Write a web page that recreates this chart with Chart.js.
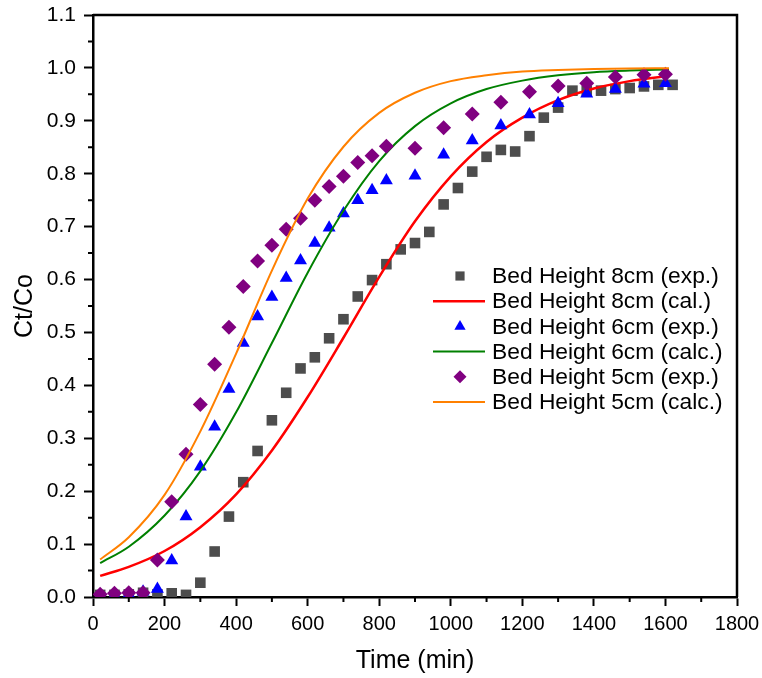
<!DOCTYPE html>
<html>
<head>
<meta charset="utf-8">
<script src="https://cdn.jsdelivr.net/npm/chart.js@4.4.0/dist/chart.umd.min.js"></script>
<style>
  html, body { margin: 0; padding: 0; background: #fff; }
  canvas { display: block; }
</style>
</head>
<body>
<canvas id="breakthrough" width="762" height="678"></canvas>
<script>
const time8 = [20, 60, 100, 140, 180, 220, 260, 300, 340, 380, 420, 460, 500, 540, 580, 620, 660, 700, 740, 780,
  820, 860, 900, 940, 980, 1020, 1060, 1100, 1140, 1180, 1220, 1260, 1300, 1340, 1380, 1420, 1460, 1500, 1540, 1580, 1620];
const exp8 = [0.004, 0.004, 0.005, 0.008, 0.005, 0.007, 0.004, 0.027, 0.086, 0.152, 0.217, 0.276, 0.334, 0.386, 0.432, 0.453, 0.489, 0.525, 0.568, 0.599,
  0.629, 0.657, 0.669, 0.690, 0.742, 0.773, 0.804, 0.832, 0.845, 0.842, 0.871, 0.906, 0.925, 0.957, 0.957, 0.957, 0.960, 0.962, 0.965, 0.968, 0.968];

const time65 = [20, 60, 100, 140, 180, 220, 260, 300, 340, 380, 420, 460, 500, 540, 580, 620, 660, 700, 740, 780,
  820, 900, 980, 1060, 1140, 1220, 1300, 1380, 1460, 1540, 1600];
const exp6 = [0.003, 0.003, 0.005, 0.010, 0.015, 0.069, 0.152, 0.246, 0.322, 0.393, 0.480, 0.530, 0.567, 0.603, 0.636, 0.669, 0.698, 0.725, 0.750, 0.769,
  0.787, 0.796, 0.836, 0.863, 0.891, 0.912, 0.933, 0.951, 0.960, 0.970, 0.971];
const exp5 = [0.005, 0.007, 0.008, 0.008, 0.070, 0.180, 0.270, 0.364, 0.440, 0.510, 0.587, 0.635, 0.665, 0.695, 0.716, 0.750, 0.776, 0.795, 0.821, 0.834,
  0.852, 0.848, 0.887, 0.913, 0.935, 0.955, 0.966, 0.971, 0.983, 0.987, 0.988];

// model curves, sampled off the figure
const calcTime = [20, 100, 200, 300, 400, 500, 600, 700, 800, 900, 1000, 1100, 1200, 1300, 1400, 1500, 1610];
const calc8 = [0.040, 0.057, 0.087, 0.132, 0.194, 0.277, 0.378, 0.490, 0.605, 0.710, 0.795, 0.860, 0.906, 0.939, 0.961, 0.975, 0.985];
const calc6 = [0.064, 0.095, 0.154, 0.238, 0.349, 0.480, 0.613, 0.730, 0.824, 0.890, 0.933, 0.960, 0.976, 0.986, 0.992, 0.995, 0.997];
const calc5 = [0.071, 0.113, 0.193, 0.313, 0.460, 0.617, 0.753, 0.851, 0.915, 0.953, 0.975, 0.986, 0.993, 0.996, 0.998, 0.999, 0.9995];

const xTicksMinor = [100, 300, 500, 700, 900, 1100, 1300, 1500, 1700];
const yTicksMinor = [0.05, 0.15, 0.25, 0.35, 0.45, 0.55, 0.65, 0.75, 0.85, 0.95, 1.05];

const pairs = (xs, ys) => xs.map((x, i) => ({ x: x, y: ys[i] }));
const FONT = '"Liberation Sans", Arial, sans-serif';

function pointSet(label, data, color, style, order) {
  return {
    label, data, order,
    showLine: false,
    backgroundColor: color,
    borderColor: color,
    pointStyle: style,
    pointRadius: 7.5,
    pointBorderWidth: 0,
    pointHoverRadius: 7.5
  };
}

function lineSet(label, data, color, width, order) {
  return {
    label, data, order,
    showLine: true,
    borderColor: color,
    backgroundColor: color,
    borderWidth: width,
    pointRadius: 0,
    tension: 0.4,
    cubicInterpolationMode: 'monotone',
    fill: false
  };
}

const minorTicks = {
  id: 'frameAndMinor',
  afterDraw(chart) {
    const ctx = chart.ctx;
    const a = chart.chartArea;
    const xs = chart.scales.x, ys = chart.scales.y;
    ctx.save();
    ctx.strokeStyle = '#000';
    ctx.lineWidth = 2.5;
    ctx.beginPath();
    ctx.moveTo(a.left, a.top);
    ctx.lineTo(a.right, a.top);
    ctx.lineTo(a.right, a.bottom);
    ctx.stroke();
    ctx.lineWidth = 2;
    ctx.beginPath();
    xTicksMinor.forEach(v => {
      const px = xs.getPixelForValue(v);
      ctx.moveTo(px, a.bottom);
      ctx.lineTo(px, a.bottom + 5);
    });
    yTicksMinor.forEach(v => {
      const py = ys.getPixelForValue(v);
      ctx.moveTo(a.left, py);
      ctx.lineTo(a.left - 5, py);
    });
    ctx.stroke();

    // legend inside the plot
    const rowY = 276, rowH = 25.2;
    ctx.font = '22.8px ' + FONT;
    ctx.textBaseline = 'middle';
    ctx.textAlign = 'left';
    chart.data.datasets.forEach((ds, i) => {
      const y = rowY + i * rowH;
      if (ds.showLine) {
        ctx.strokeStyle = ds.borderColor;
        ctx.lineWidth = ds.borderWidth;
        ctx.beginPath();
        ctx.moveTo(433, y);
        ctx.lineTo(485, y);
        ctx.stroke();
      } else {
        ctx.fillStyle = ds.backgroundColor;
        Chart.helpers.drawPoint(ctx, { pointStyle: ds.pointStyle, radius: 6.5, rotation: 0, borderWidth: 0 }, 460, y);
      }
      ctx.fillStyle = '#000';
      ctx.fillText(ds.label, 492, y + 1);
    });
    ctx.restore();
  }
};

new Chart(document.getElementById('breakthrough').getContext('2d'), {
  type: 'scatter',
  data: {
    datasets: [
      pointSet('Bed Height 8cm (exp.)', pairs(time8, exp8), '#4d4d4d', 'rect', 6),
      lineSet('Bed Height 8cm (cal.)', pairs(calcTime, calc8), '#ff0000', 2.5, 5),
      pointSet('Bed Height 6cm (exp.)', pairs(time65, exp6), '#0000ff', 'triangle', 4),
      lineSet('Bed Height 6cm (calc.)', pairs(calcTime, calc6), '#008000', 2, 3),
      pointSet('Bed Height 5cm (exp.)', pairs(time65, exp5), '#800080', 'rectRot', 2),
      lineSet('Bed Height 5cm (calc.)', pairs(calcTime, calc5), '#ff8000', 2, 1)
    ]
  },
  options: {
    responsive: false,
    animation: false,
    layout: { padding: { top: 15, right: 25, left: 0, bottom: 0 } },
    plugins: {
      legend: { display: false },
      tooltip: { enabled: false }
    },
    scales: {
      x: {
        type: 'linear',
        min: 0,
        max: 1800,
        afterFit(s) { s.height = 81; s.paddingRight = 0; s.paddingLeft = 0; },
        border: { display: true, color: '#000', width: 2.5 },
        grid: { drawOnChartArea: false, drawTicks: true, tickLength: 9, tickColor: '#000', tickWidth: 2 },
        ticks: { stepSize: 200, color: '#000', padding: 6, maxRotation: 0, font: { family: FONT, size: 20 },
          callback: v => String(v) },
        title: { display: true, text: 'Time (min)', color: '#000', font: { family: FONT, size: 25 }, padding: { top: 0, bottom: 2 } }
      },
      y: {
        min: 0,
        max: 1.1,
        afterFit(s) { s.width = 93; s.paddingTop = 0; s.paddingBottom = 0; },
        border: { display: true, color: '#000', width: 2.5 },
        grid: { drawOnChartArea: false, drawTicks: true, tickLength: 9, tickColor: '#000', tickWidth: 2 },
        ticks: { stepSize: 0.1, color: '#000', padding: 8, font: { family: FONT, size: 21 },
          callback: v => v.toFixed(1) },
        title: { display: true, text: 'Ct/Co', color: '#000', font: { family: FONT, size: 25 }, padding: { top: 10, bottom: 0 } }
      }
    }
  },
  plugins: [minorTicks]
});
</script>
</body>
</html>
